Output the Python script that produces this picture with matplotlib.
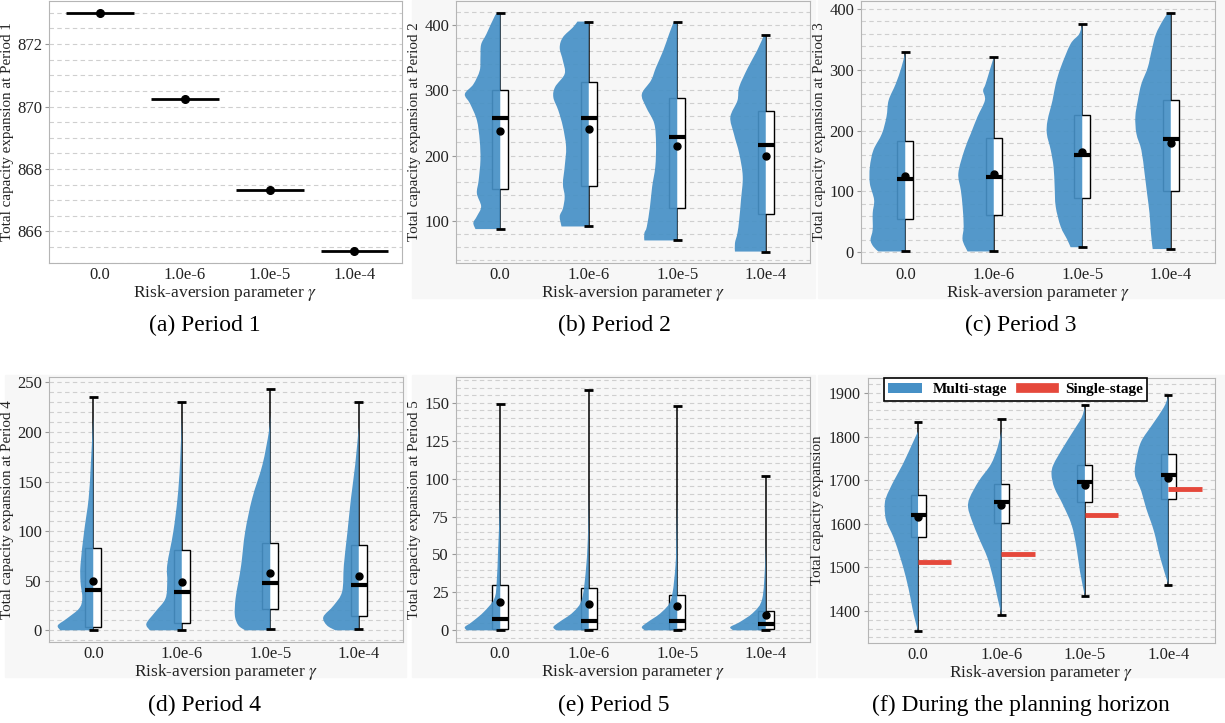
import matplotlib
matplotlib.use("Agg")
import matplotlib.pyplot as plt
from matplotlib.patches import Rectangle, Patch, PathPatch
from matplotlib.path import Path
from matplotlib.lines import Line2D
from matplotlib.ticker import MultipleLocator

plt.rcParams['font.family'] = ['Liberation Serif', 'DejaVu Serif']
plt.rcParams['mathtext.fontset'] = 'stix'

GAMMAS = ['0.0', '1.0e-6', '1.0e-5', '1.0e-4']
BLUE = '#4690c6'
RED = '#e5483b'
BG = '#f7f7f7'

# period 1: every scenario gives the same value
P1_VALUES = [873.0, 870.24, 867.33, 865.36]

# period 2
P2_Q1 = [148.7, 154, 119, 110]
P2_Q3 = [300.5, 313, 288, 267.5]
P2_MED = [257, 258, 229, 216.8]
P2_MEAN = [237.6, 241, 214.7, 199]
P2_LO = [87.4, 91.4, 70, 53]
P2_HI = [418.8, 405, 404.6, 384]
P2_VY = [[419, 414, 386, 370, 350, 330, 309, 294, 279, 254, 223, 193, 162, 142, 122, 107, 97, 87.4],
         [405, 396, 381, 365, 345, 325, 305, 289, 269, 244, 213, 183, 157, 137, 119, 107, 91.4],
         [404.6, 386, 360, 335, 315, 294, 274, 249, 218, 183, 152, 122, 91, 81, 70],
         [384, 360, 335, 305, 284, 259, 233, 203, 168, 132, 101.5, 81, 66, 53]]
P2_VW = [[0.05, 0.15, 0.39, 0.54, 0.56, 0.58, 0.76, 1.0, 0.85, 0.66, 0.58, 0.56, 0.61, 0.66, 0.54, 0.66, 0.76, 0.70],
         [0.32, 0.45, 0.73, 0.82, 0.73, 0.68, 0.95, 1.0, 0.86, 0.73, 0.64, 0.68, 0.73, 0.68, 0.73, 0.82, 0.77],
         [0.1, 0.23, 0.4, 0.6, 0.74, 1.0, 0.88, 0.65, 0.6, 0.62, 0.71, 0.77, 0.86, 0.93, 0.93],
         [0.05, 0.25, 0.5, 0.75, 0.8, 1.0, 0.9, 0.75, 0.65, 0.7, 0.75, 0.8, 0.87, 0.87]]

# period 3
P3_Q1 = [54, 60.7, 89.6, 101]
P3_Q3 = [183, 188.5, 226, 250]
P3_MED = [120, 123.5, 160.7, 186]
P3_MEAN = [125.7, 128.4, 165, 180]
P3_LO = [1, 1, 8, 5]
P3_HI = [329, 320.8, 376.5, 393.4]
P3_VY = [[329, 304, 277, 250, 223, 195, 168, 140, 113, 86, 64, 37, 20, 9, 1],
         [321, 304, 277, 266, 250, 223, 195, 168, 130, 102, 75, 42, 20, 1],
         [376.5, 359, 343, 304, 277, 250, 217, 195, 168, 140, 108, 75, 42, 20, 8],
         [393, 381, 359, 332, 304, 277, 250, 223, 195, 168, 130, 97, 64, 31, 5]]
P3_VW = [[0.0, 0.11, 0.27, 0.47, 0.53, 0.66, 0.9, 1.0, 1.0, 0.88, 0.92, 0.92, 0.98, 0.9, 0.76],
         [0.0, 0.09, 0.23, 0.3, 0.25, 0.46, 0.65, 0.83, 1.0, 0.93, 0.88, 0.85, 0.88, 0.74],
         [0.0, 0.09, 0.33, 0.61, 0.75, 0.84, 0.98, 1.0, 0.89, 0.81, 0.78, 0.75, 0.61, 0.42, 0.33],
         [0.09, 0.23, 0.42, 0.54, 0.65, 0.83, 0.93, 1.0, 0.97, 0.83, 0.74, 0.67, 0.6, 0.56, 0.51]]

# period 4
P4_Q1 = [3.4, 7.4, 21, 14.5]
P4_Q3 = [83, 80.5, 87.6, 85.6]
P4_MED = [41, 38.4, 48, 45.5]
P4_MEAN = [50, 49, 58, 54.6]
P4_LO = [0, 0, 1, 1]
P4_HI = [235, 230.5, 243.3, 230.5]
P4_VY = [[215, 167, 133, 99, 66, 49, 32, 22, 12, 5, 0],
         [215, 167, 133, 99, 66, 49, 32, 18.5, 6.7, 0],
         [217, 200, 167, 133, 99, 66, 49, 32, 15, 5, 0],
         [205, 167, 133, 99, 66, 39, 25, 13.5, 5, 0]]
P4_VW = [[0.0, 0.07, 0.13, 0.26, 0.36, 0.36, 0.31, 0.4, 0.74, 1.0, 0.93],
         [0.0, 0.05, 0.12, 0.24, 0.41, 0.41, 0.46, 0.75, 1.0, 0.9],
         [0.0, 0.04, 0.22, 0.51, 0.71, 0.82, 0.9, 0.98, 1.0, 0.9, 0.71],
         [0.0, 0.1, 0.22, 0.32, 0.42, 0.47, 0.71, 1.0, 0.9, 0.66]]

# period 5
P5_Q1 = [1.1, 1.1, 1.1, 1.1]
P5_Q3 = [29.6, 28, 23, 12.7]
P5_MED = [7.7, 6.1, 5.9, 4.4]
P5_MEAN = [18.6, 17.5, 15.8, 10.3]
P5_LO = [0, 0, 0, 0]
P5_HI = [149, 158.5, 147.6, 101.5]
P5_VY = [[90, 75.7, 53.7, 31.8, 20.8, 12, 5.5, 2.2, 0],
         [90, 64.7, 42.8, 20.8, 12, 5.5, 2.2, 0],
         [85, 64.7, 42.8, 20.8, 12, 5.5, 2.2, 0],
         [60, 42.8, 20.8, 12, 5.5, 2.2, 0]]
P5_VW = [[0.0, 0.02, 0.06, 0.1, 0.17, 0.47, 0.8, 1.0, 0.95],
         [0.0, 0.02, 0.07, 0.19, 0.44, 0.83, 1.0, 0.92],
         [0.0, 0.02, 0.05, 0.17, 0.44, 0.83, 1.0, 0.92],
         [0.0, 0.02, 0.1, 0.34, 0.73, 1.0, 0.92]]

# whole planning horizon
PT_Q1 = [1569.5, 1601.5, 1649, 1655.7]
PT_Q3 = [1665.6, 1691.6, 1735, 1761]
PT_MED = [1620, 1649.6, 1696, 1711]
PT_MEAN = [1615, 1644, 1688.5, 1705]
PT_LO = [1354, 1391.6, 1434, 1459.5]
PT_HI = [1833, 1841, 1871.8, 1894]
PT_VY = [[1812, 1782, 1736, 1698, 1660, 1637, 1606, 1568, 1522, 1476, 1431, 1392, 1354],
         [1812, 1774, 1736, 1698, 1660, 1637, 1606, 1568, 1522, 1476, 1431, 1392],
         [1869, 1843, 1812, 1774, 1736, 1713, 1682, 1644, 1598, 1545, 1492, 1434],
         [1892, 1866, 1827, 1789, 1751, 1713, 1675, 1637, 1583, 1522, 1461]]
PT_VW = [[0.0, 0.18, 0.46, 0.73, 0.96, 1.0, 0.95, 0.73, 0.53, 0.36, 0.23, 0.13, 0.0],
         [0.0, 0.12, 0.32, 0.68, 0.95, 1.0, 0.88, 0.68, 0.42, 0.25, 0.12, 0.0],
         [0.0, 0.1, 0.35, 0.66, 0.94, 1.0, 0.91, 0.66, 0.4, 0.25, 0.15, 0.0],
         [0.0, 0.14, 0.48, 0.81, 0.95, 1.0, 0.81, 0.67, 0.43, 0.24, 0.0]]
SINGLE_STAGE = [1512, 1532, 1621, 1680]

W, H = 1225, 723
fig = plt.figure(figsize=(W / 100, H / 100), dpi=100)


def px_axes(l, t, r, b, face, label_dx=35):
    ax = fig.add_axes([l / W, 1 - b / H, (r - l) / W, (b - t) / H])
    ax.set_facecolor(face)
    # y label centred label_dx px left of the frame
    ax.yaxis.set_label_coords(-label_dx / (r - l), 0.5)
    return ax


def backdrop(l, t, r, b):
    fig.patches.append(Rectangle((l / W, 1 - b / H), (r - l) / W, (b - t) / H,
                                 transform=fig.transFigure, color=BG, zorder=-10))


def style(ax, ylabel, ylim, major, minor, xlim, ytick_size=12):
    ax.set_xlim(*xlim)
    ax.set_ylim(*ylim)
    ax.set_xticks(range(len(GAMMAS)))
    ax.set_xticklabels(GAMMAS)
    ax.yaxis.set_major_locator(MultipleLocator(major))
    ax.yaxis.set_minor_locator(MultipleLocator(minor))
    ax.grid(which='both', axis='y', ls=(0, (4, 3)), color='#cfcfcf', lw=0.8)
    ax.set_axisbelow(True)
    for s in ax.spines.values():
        s.set_color('#b5b5b5')
    ax.tick_params(axis='x', length=0, labelsize=12, pad=3, labelcolor='#222222')
    ax.tick_params(axis='y', which='major', length=3, color='#999999', labelsize=ytick_size,
                   pad=2, labelcolor='#222222')
    ax.tick_params(axis='y', which='minor', length=0)
    ax.set_xlabel(r'Risk-aversion parameter $\gamma$', fontsize=12.5, labelpad=0,
                  color='#222222')
    ax.set_ylabel(ylabel, fontsize=10.8, color='#222222')


def half_violin(ax, i, ys, ws):
    # left half of a violin, outline drawn as a smooth curve through the read points
    pts = [(i - 0.4 * w, y) for y, w in zip(ys, ws)]
    verts = [(i, ys[0]), pts[0]]
    codes = [Path.MOVETO, Path.LINETO]
    n = len(pts)
    for k in range(n - 1):
        p0 = pts[k - 1] if k > 0 else pts[k]
        p1, p2 = pts[k], pts[k + 1]
        p3 = pts[k + 2] if k + 2 < n else pts[k + 1]
        c1 = (p1[0] + (p2[0] - p0[0]) / 6, p1[1] + (p2[1] - p0[1]) / 6)
        c2 = (p2[0] - (p3[0] - p1[0]) / 6, p2[1] - (p3[1] - p1[1]) / 6)
        verts += [c1, c2, p2]
        codes += [Path.CURVE4] * 3
    verts += [(i, ys[-1]), (i, ys[0])]
    codes += [Path.LINETO, Path.CLOSEPOLY]
    ax.add_patch(PathPatch(Path(verts, codes), facecolor=BLUE, edgecolor='none',
                           alpha=0.92, zorder=3))


def raincloud(ax, vy, vw, q1, q3, med, mean, lo, hi):
    for i in range(len(GAMMAS)):
        ax.vlines(i, lo[i], hi[i], color='black', lw=1.1, zorder=1)
        ax.add_patch(Rectangle((i - 0.09, q1[i]), 0.18, q3[i] - q1[i],
                               facecolor='white', edgecolor='black', lw=1.0, zorder=2))
        half_violin(ax, i, vy[i], vw[i])
        ax.hlines([lo[i], hi[i]], i - 0.05, i + 0.05, color='black', lw=2, zorder=4)
        ax.hlines(med[i], i - 0.09, i + 0.09, color='black', lw=3, zorder=5)
        ax.plot(i, mean[i], 'o', color='black', ms=5, zorder=6)


# (a) Period 1
ax = px_axes(49, 1, 402, 263, 'white')
for i, v in enumerate(P1_VALUES):
    ax.hlines(v, i - 0.4, i + 0.4, color='black', lw=2, zorder=3)
    ax.plot(i, v, 'o', color='black', ms=5.5, zorder=4)
style(ax, 'Total capacity expansion at Period 1', (864.99, 873.38), 2, 0.5, (-0.6, 3.56))

# (b) Period 2
backdrop(412, 0, 815, 298)
ax = px_axes(456, 1, 810, 263, BG)
raincloud(ax, P2_VY, P2_VW, P2_Q1, P2_Q3, P2_MED, P2_MEAN, P2_LO, P2_HI)
style(ax, 'Total capacity expansion at Period 2', (35.5, 436.5), 100, 20, (-0.5, 3.5))

# (c) Period 3
backdrop(818, 0, 1225, 298)
ax = px_axes(861, 1, 1215, 263, BG)
raincloud(ax, P3_VY, P3_VW, P3_Q1, P3_Q3, P3_MED, P3_MEAN, P3_LO, P3_HI)
style(ax, 'Total capacity expansion at Period 3', (-18, 413.7), 100, 20, (-0.5, 3.5))

# (d) Period 4
backdrop(5, 375, 406, 677)
ax = px_axes(49, 377, 403, 642, BG)
raincloud(ax, P4_VY, P4_VW, P4_Q1, P4_Q3, P4_MED, P4_MEAN, P4_LO, P4_HI)
style(ax, 'Total capacity expansion at Period 4', (-11.8, 255.4), 50, 10, (-0.5, 3.5))

# (e) Period 5
backdrop(412, 375, 815, 677)
ax = px_axes(456, 377, 810, 642, BG)
raincloud(ax, P5_VY, P5_VW, P5_Q1, P5_Q3, P5_MED, P5_MEAN, P5_LO, P5_HI)
style(ax, 'Total capacity expansion at Period 5', (-7.7, 167), 25, 5, (-0.5, 3.5))

# (f) whole horizon
backdrop(818, 375, 1225, 677)
ax = px_axes(868, 378, 1215, 643, BG, label_dx=44)
raincloud(ax, PT_VY, PT_VW, PT_Q1, PT_Q3, PT_MED, PT_MEAN, PT_LO, PT_HI)
for i, v in enumerate(SINGLE_STAGE):
    ax.hlines(v, i, i + 0.4, color=RED, lw=3.5, zorder=7)
style(ax, 'Total capacity expansion', (1327, 1934), 100, 20, (-0.6, 3.56), ytick_size=11.5)
handles = [Patch(facecolor=BLUE, edgecolor='none'), Line2D([], [], color=RED, lw=7)]
leg = ax.legend(handles, ['Multi-stage', 'Single-stage'], ncol=2, loc='upper center',
                bbox_to_anchor=(0.425, 1.0), borderaxespad=0, fancybox=False,
                edgecolor='black', framealpha=1, handlelength=2.2, handletextpad=0.7,
                columnspacing=0.9, prop={'weight': 'bold', 'size': 11}, borderpad=0.3)
leg.get_frame().set_linewidth(1.2)
leg.set_zorder(10)

captions = ['(a) Period 1', '(b) Period 2', '(c) Period 3',
            '(d) Period 4', '(e) Period 5', '(f) During the planning horizon']
cx = [205, 614, 1021]
for k, cap in enumerate(captions):
    y = 325 if k < 3 else 705
    fig.text(cx[k % 3] / W, 1 - y / H, cap, ha='center', va='center', fontsize=17)

fig.savefig('out.png', dpi=100)
